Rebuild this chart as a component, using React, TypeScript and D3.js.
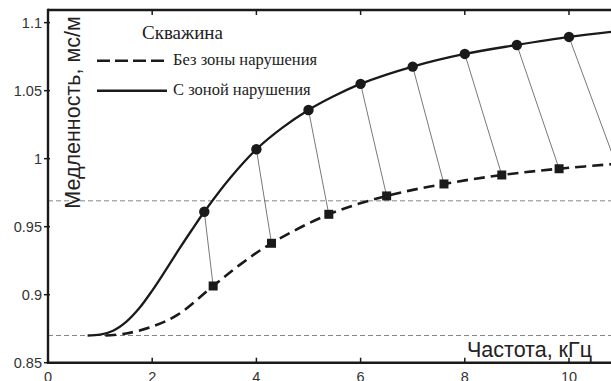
import React from "react";
import * as d3 from "d3";

// Data
const xTicks = [0, 2, 4, 6, 8, 10];
const yTicks = [0.85, 0.9, 0.95, 1, 1.05, 1.1];
const yTickLabels = ["0.85", "0.9", "0.95", "1", "1.05", "1.1"];

const solidX = [0.76, 1.0, 1.25, 1.5, 1.75, 2.0, 2.25, 2.5, 2.75, 3.0, 3.5, 4.0, 4.5, 5.0, 5.5, 6.0, 7.0, 8.0, 9.0, 10.0, 11.0];
const solidY = [0.87, 0.8706, 0.8735, 0.88, 0.89, 0.903, 0.9175, 0.9325, 0.947, 0.961, 0.986, 1.0069, 1.0228, 1.0358, 1.0462, 1.055, 1.0677, 1.077, 1.0836, 1.0895, 1.094];

const dashedX = [1.1, 1.5, 2.0, 2.5, 3.17, 3.7, 4.29, 5.39, 6.5, 7.6, 8.71, 9.81, 11.0];
const dashedY = [0.87, 0.8715, 0.8765, 0.8855, 0.9064, 0.9225, 0.9378, 0.9591, 0.9726, 0.9814, 0.988, 0.9926, 0.9965];

const circleX = [3, 4, 5, 6, 7, 8, 9, 10];
const circleY = [0.961, 1.0069, 1.0358, 1.055, 1.0677, 1.077, 1.0836, 1.0895];

const squareX = [3.17, 4.29, 5.39, 6.5, 7.6, 8.71, 9.81, 10.9];
const squareY = [0.9064, 0.9378, 0.9591, 0.9726, 0.9814, 0.988, 0.9926, 0.9962];

const refLines = [0.969, 0.87];

const legendTitle = "Скважина";
const legendItems = ["Без зоны нарушения", "С зоной нарушения"];
const yLabel = "Медленность, мс/м";
const xLabel = "Частота, кГц";

export default function App() {
  const W = 611;
  const H = 381;
  const x = d3.scaleLinear().domain([0, 11]).range([48, 48 + 11 * 52.1]);
  const y = d3.scaleLinear().domain([0.85, 1.1093]).range([362.7, 10]);
  const left = x(0);
  const bottom = y(0.85);
  const top = y(1.1093);

  const line = d3
    .line<[number, number]>()
    .x((d) => x(d[0]))
    .y((d) => y(d[1]))
    .curve(d3.curveCatmullRom.alpha(0.5));

  const solidPts = solidX.map((v, i) => [v, solidY[i]] as [number, number]);
  const dashedPts = dashedX.map((v, i) => [v, dashedY[i]] as [number, number]);

  const sans = "'Liberation Sans', Arial, sans-serif";
  const serif = "'Liberation Serif', 'Times New Roman', serif";

  return (
    <svg
      width={W}
      height={H}
      style={{ position: "absolute", left: 0, top: 0, background: "#fff" }}
    >
      <defs>
        <clipPath id="plot">
          <rect x={left} y={top} width={W - left} height={bottom - top} />
        </clipPath>
      </defs>

      {/* reference dashed lines */}
      {refLines.map((v, i) => (
        <line
          key={i}
          x1={left}
          x2={W}
          y1={y(v)}
          y2={y(v)}
          stroke="#777"
          strokeWidth={0.9}
          strokeDasharray="5,3"
        />
      ))}

      <g clipPath="url(#plot)">
        {/* connectors */}
        {circleX.map((cx, i) => (
          <line
            key={i}
            x1={x(cx)}
            y1={y(circleY[i])}
            x2={x(squareX[i])}
            y2={y(squareY[i])}
            stroke="#555"
            strokeWidth={0.8}
          />
        ))}
        <path d={line(dashedPts) || ""} fill="none" stroke="#1a1a1a" strokeWidth={2.6} strokeDasharray="11,6" />
        <path d={line(solidPts) || ""} fill="none" stroke="#1a1a1a" strokeWidth={2.3} />
        {circleX.map((cx, i) => (
          <circle key={i} cx={x(cx)} cy={y(circleY[i])} r={5.2} fill="#1a1a1a" />
        ))}
        {squareX.map((sx, i) => (
          <rect key={i} x={x(sx) - 4.5} y={y(squareY[i]) - 4.5} width={9} height={9} fill="#1a1a1a" />
        ))}
      </g>

      {/* axes */}
      <line x1={left} x2={W} y1={bottom} y2={bottom} stroke="#1a1a1a" strokeWidth={2.4} />
      <line x1={left} x2={W} y1={top} y2={top} stroke="#1a1a1a" strokeWidth={2.4} />
      <line x1={left} x2={left} y1={top - 1.2} y2={bottom + 1.2} stroke="#1a1a1a" strokeWidth={2.4} />

      {xTicks.map((t) => (
        <g key={t}>
          {t !== 0 && (
            <>
              <line x1={x(t)} x2={x(t)} y1={bottom} y2={bottom - 5} stroke="#1a1a1a" strokeWidth={1.5} />
              <line x1={x(t)} x2={x(t)} y1={top} y2={top + 5} stroke="#1a1a1a" strokeWidth={1.5} />
            </>
          )}
          <text
            x={x(t)}
            y={bottom + 19}
            textAnchor="middle"
            fontFamily={sans}
            fontSize={14.5}
            fill="#333"
          >
            {t}
          </text>
        </g>
      ))}

      {yTicks.map((t, i) => (
        <g key={t}>
          <line x1={left - 4} x2={left + 2} y1={y(t)} y2={y(t)} stroke="#1a1a1a" strokeWidth={1.5} />
          <text
            x={left - 6}
            y={y(t)}
            dy="0.35em"
            textAnchor="end"
            fontFamily={sans}
            fontSize={14.5}
            fill="#333"
          >
            {yTickLabels[i]}
          </text>
        </g>
      ))}

      {/* axis labels */}
      <text
        transform={`translate(${80},${112.5}) rotate(-90)`}
        textAnchor="middle"
        fontFamily={sans}
        fontSize={21.5}
        fill="#222"
      >
        {yLabel}
      </text>
      <text x={592} y={357} textAnchor="end" fontFamily={sans} fontSize={21.5} fill="#222">
        {xLabel}
      </text>

      {/* legend */}
      <text x={142} y={39} fontFamily={serif} fontSize={19} fill="#222">
        {legendTitle}
      </text>
      <line x1={97} x2={164} y1={60.7} y2={60.7} stroke="#1a1a1a" strokeWidth={2.6} strokeDasharray="13,5" />
      <text x={173} y={65} fontFamily={serif} fontSize={16.5} fill="#222">
        {legendItems[0]}
      </text>
      <line x1={97} x2={167} y1={90.7} y2={90.7} stroke="#1a1a1a" strokeWidth={2.4} />
      <text x={173} y={95} fontFamily={serif} fontSize={16.5} fill="#222">
        {legendItems[1]}
      </text>
    </svg>
  );
}
